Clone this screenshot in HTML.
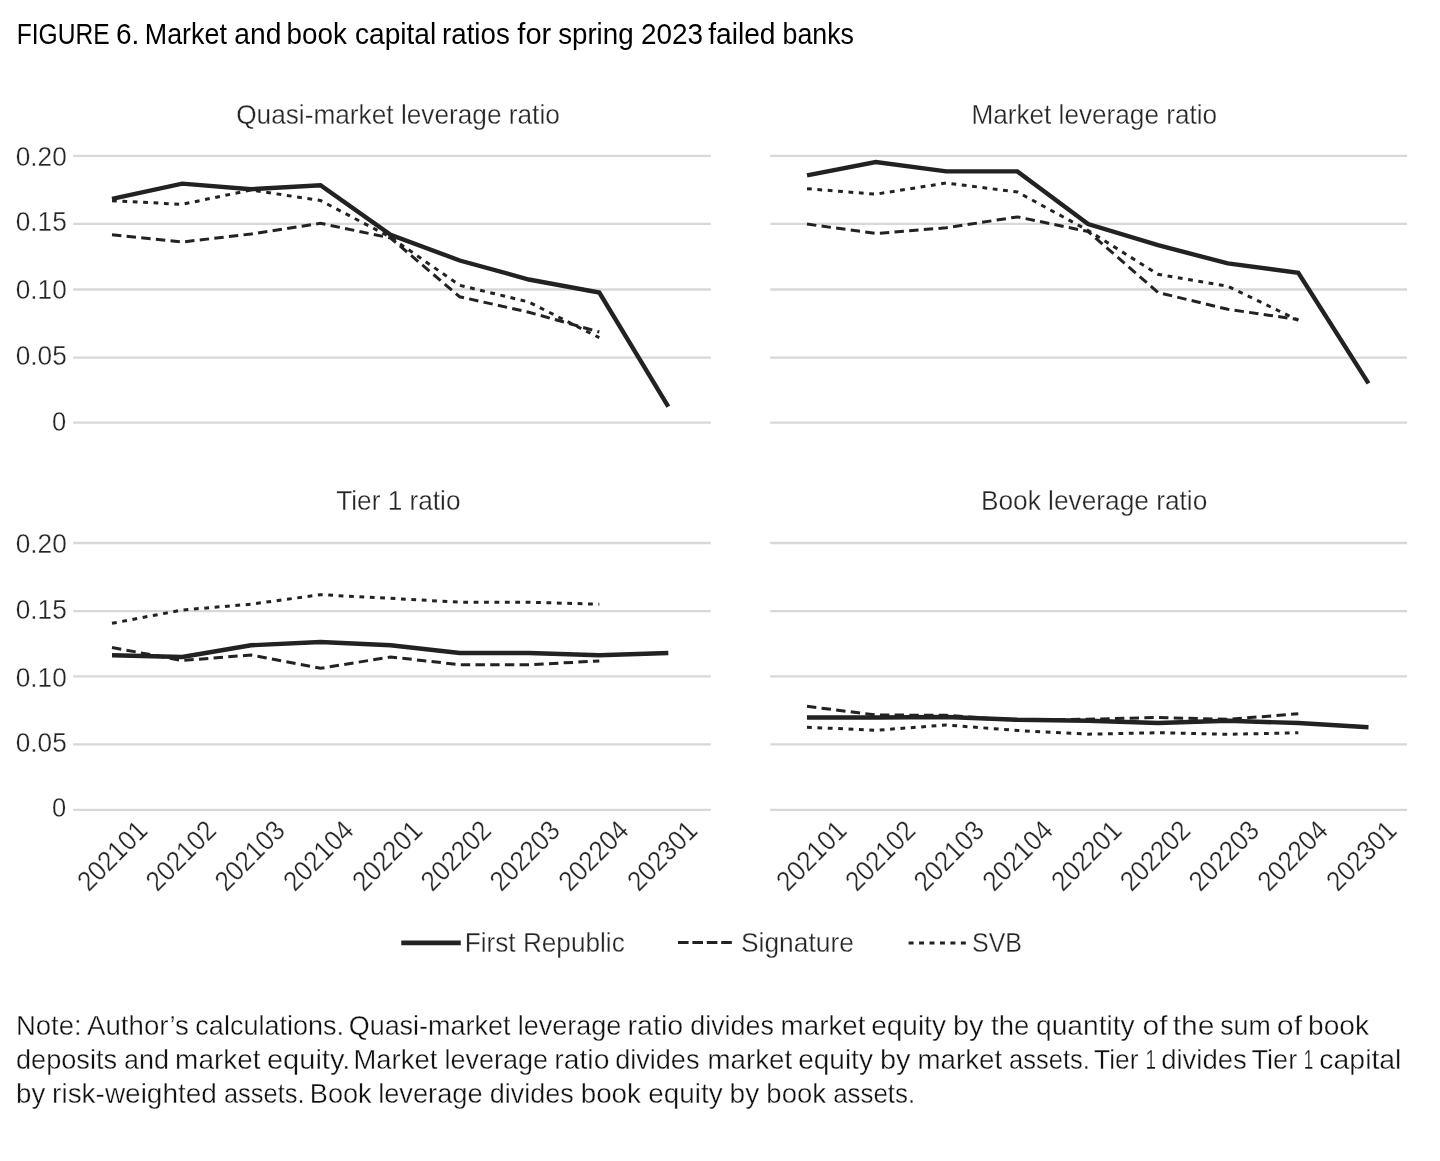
<!DOCTYPE html>
<html lang="en"><head><meta charset="utf-8"><title>FIGURE 6. Market and book capital ratios for spring 2023 failed banks</title>
<style>
html,body{margin:0;padding:0;background:#fff;}
body{width:1440px;height:1161px;overflow:hidden;}
svg{display:block;}
text{font-family:"Liberation Sans", sans-serif;}
.t{font-size:27.8px;fill:#262626;stroke:#fff;stroke-width:0.3px;}
.ttl{font-size:29.6px;fill:#000;}
.note{font-size:27.8px;fill:#111;stroke:#fff;stroke-width:0.35px;}
.g{stroke:#d8d8d8;stroke-width:2.3;}
.s{fill:none;stroke:#222;stroke-width:4.4;stroke-linejoin:miter;stroke-linecap:butt;}
.da{fill:none;stroke:#222;stroke-width:3;stroke-dasharray:9.4 5.3;stroke-linejoin:miter;}
.do{fill:none;stroke:#222;stroke-width:3;stroke-dasharray:4.8 5.6;stroke-linejoin:miter;}
</style></head><body>
<svg width="1440" height="1161" viewBox="0 0 1440 1161">
<rect width="1440" height="1161" fill="#fff"/>
<line class="g" x1="73.2" x2="710.8" y1="155.8" y2="155.8"/>
<line class="g" x1="770.3" x2="1407" y1="155.8" y2="155.8"/>
<line class="g" x1="73.2" x2="710.8" y1="223.9" y2="223.9"/>
<line class="g" x1="770.3" x2="1407" y1="223.9" y2="223.9"/>
<line class="g" x1="73.2" x2="710.8" y1="289.5" y2="289.5"/>
<line class="g" x1="770.3" x2="1407" y1="289.5" y2="289.5"/>
<line class="g" x1="73.2" x2="710.8" y1="357.6" y2="357.6"/>
<line class="g" x1="770.3" x2="1407" y1="357.6" y2="357.6"/>
<line class="g" x1="73.2" x2="710.8" y1="422.7" y2="422.7"/>
<line class="g" x1="770.3" x2="1407" y1="422.7" y2="422.7"/>
<line class="g" x1="73.2" x2="710.8" y1="543.0" y2="543.0"/>
<line class="g" x1="770.3" x2="1407" y1="543.0" y2="543.0"/>
<line class="g" x1="73.2" x2="710.8" y1="611.2" y2="611.2"/>
<line class="g" x1="770.3" x2="1407" y1="611.2" y2="611.2"/>
<line class="g" x1="73.2" x2="710.8" y1="676.4" y2="676.4"/>
<line class="g" x1="770.3" x2="1407" y1="676.4" y2="676.4"/>
<line class="g" x1="73.2" x2="710.8" y1="744.3" y2="744.3"/>
<line class="g" x1="770.3" x2="1407" y1="744.3" y2="744.3"/>
<line class="g" x1="73.2" x2="710.8" y1="809.8" y2="809.8"/>
<line class="g" x1="770.3" x2="1407" y1="809.8" y2="809.8"/>
<text class="ttl" y="44.4"><tspan x="16.75" textLength="92.96" lengthAdjust="spacingAndGlyphs">FIGURE</tspan> <tspan x="115.94" textLength="23.35" lengthAdjust="spacingAndGlyphs">6.</tspan> <tspan x="144.84" textLength="82.04" lengthAdjust="spacingAndGlyphs">Market</tspan> <tspan x="234.36" textLength="47.08" lengthAdjust="spacingAndGlyphs">and</tspan> <tspan x="286.58" textLength="60.36" lengthAdjust="spacingAndGlyphs">book</tspan> <tspan x="354.97" textLength="81.26" lengthAdjust="spacingAndGlyphs">capital</tspan> <tspan x="442.06" textLength="67.73" lengthAdjust="spacingAndGlyphs">ratios</tspan> <tspan x="517.32" textLength="33.98" lengthAdjust="spacingAndGlyphs">for</tspan> <tspan x="558.14" textLength="75.47" lengthAdjust="spacingAndGlyphs">spring</tspan> <tspan x="640.88" textLength="62.03" lengthAdjust="spacingAndGlyphs">2023</tspan> <tspan x="708.17" textLength="67.38" lengthAdjust="spacingAndGlyphs">failed</tspan> <tspan x="782.58" textLength="71.39" lengthAdjust="spacingAndGlyphs">banks</tspan></text>
<text class="t" y="166.4"><tspan x="15.75" textLength="51.05" lengthAdjust="spacingAndGlyphs">0.20</tspan></text>
<text class="t" y="231.3"><tspan x="15.75" textLength="51.02" lengthAdjust="spacingAndGlyphs">0.15</tspan></text>
<text class="t" y="299.2"><tspan x="15.75" textLength="51.05" lengthAdjust="spacingAndGlyphs">0.10</tspan></text>
<text class="t" y="364.9"><tspan x="15.75" textLength="51.02" lengthAdjust="spacingAndGlyphs">0.05</tspan></text>
<text class="t" y="430.6"><tspan x="51.88" textLength="14.20" lengthAdjust="spacingAndGlyphs">0</tspan></text>
<text class="t" y="553.4"><tspan x="15.75" textLength="51.05" lengthAdjust="spacingAndGlyphs">0.20</tspan></text>
<text class="t" y="618.5"><tspan x="15.75" textLength="51.02" lengthAdjust="spacingAndGlyphs">0.15</tspan></text>
<text class="t" y="686.6"><tspan x="15.75" textLength="51.05" lengthAdjust="spacingAndGlyphs">0.10</tspan></text>
<text class="t" y="751.6"><tspan x="15.75" textLength="51.02" lengthAdjust="spacingAndGlyphs">0.05</tspan></text>
<text class="t" y="817.3"><tspan x="51.88" textLength="14.20" lengthAdjust="spacingAndGlyphs">0</tspan></text>
<text class="t" y="123.6"><tspan x="236.18" textLength="323.65" lengthAdjust="spacingAndGlyphs">Quasi-market leverage ratio</tspan></text>
<text class="t" y="123.6"><tspan x="971.43" textLength="245.69" lengthAdjust="spacingAndGlyphs">Market leverage ratio</tspan></text>
<text class="t" y="510.1"><tspan x="336.24" textLength="124.22" lengthAdjust="spacingAndGlyphs">Tier 1 ratio</tspan></text>
<text class="t" y="510.1"><tspan x="980.88" textLength="226.46" lengthAdjust="spacingAndGlyphs">Book leverage ratio</tspan></text>
<text class="t" y="951.6"><tspan x="464.77" textLength="159.97" lengthAdjust="spacingAndGlyphs">First Republic</tspan></text>
<text class="t" y="951.6"><tspan x="740.97" textLength="112.89" lengthAdjust="spacingAndGlyphs">Signature</tspan></text>
<text class="t" y="951.6"><tspan x="972.03" textLength="49.94" lengthAdjust="spacingAndGlyphs">SVB</tspan></text>
<text class="note" y="1035.1"><tspan x="15.89" textLength="65.70" lengthAdjust="spacingAndGlyphs">Note:</tspan> <tspan x="87.09" textLength="101.87" lengthAdjust="spacingAndGlyphs">Author’s</tspan> <tspan x="195.36" textLength="148.73" lengthAdjust="spacingAndGlyphs">calculations.</tspan> <tspan x="348.67" textLength="161.83" lengthAdjust="spacingAndGlyphs">Quasi-market</tspan> <tspan x="517.64" textLength="103.71" lengthAdjust="spacingAndGlyphs">leverage</tspan> <tspan x="627.59" textLength="55.72" lengthAdjust="spacingAndGlyphs">ratio</tspan> <tspan x="690.31" textLength="83.57" lengthAdjust="spacingAndGlyphs">divides</tspan> <tspan x="780.61" textLength="84.82" lengthAdjust="spacingAndGlyphs">market</tspan> <tspan x="871.15" textLength="74.79" lengthAdjust="spacingAndGlyphs">equity</tspan> <tspan x="952.99" textLength="30.57" lengthAdjust="spacingAndGlyphs">by</tspan> <tspan x="991.00" textLength="38.22" lengthAdjust="spacingAndGlyphs">the</tspan> <tspan x="1036.03" textLength="98.69" lengthAdjust="spacingAndGlyphs">quantity</tspan> <tspan x="1142.57" textLength="24.97" lengthAdjust="spacingAndGlyphs">of</tspan> <tspan x="1172.75" textLength="41.72" lengthAdjust="spacingAndGlyphs">the</tspan> <tspan x="1220.24" textLength="50.54" lengthAdjust="spacingAndGlyphs">sum</tspan> <tspan x="1276.86" textLength="25.16" lengthAdjust="spacingAndGlyphs">of</tspan> <tspan x="1308.10" textLength="60.87" lengthAdjust="spacingAndGlyphs">book</tspan></text>
<text class="note" y="1069.0"><tspan x="16.00" textLength="101.07" lengthAdjust="spacingAndGlyphs">deposits</tspan> <tspan x="124.01" textLength="44.94" lengthAdjust="spacingAndGlyphs">and</tspan> <tspan x="175.11" textLength="85.36" lengthAdjust="spacingAndGlyphs">market</tspan> <tspan x="266.94" textLength="83.45" lengthAdjust="spacingAndGlyphs">equity.</tspan> <tspan x="353.47" textLength="83.80" lengthAdjust="spacingAndGlyphs">Market</tspan> <tspan x="444.43" textLength="103.73" lengthAdjust="spacingAndGlyphs">leverage</tspan> <tspan x="554.32" textLength="55.09" lengthAdjust="spacingAndGlyphs">ratio</tspan> <tspan x="615.16" textLength="84.30" lengthAdjust="spacingAndGlyphs">divides</tspan> <tspan x="707.54" textLength="84.66" lengthAdjust="spacingAndGlyphs">market</tspan> <tspan x="798.15" textLength="74.79" lengthAdjust="spacingAndGlyphs">equity</tspan> <tspan x="879.99" textLength="30.57" lengthAdjust="spacingAndGlyphs">by</tspan> <tspan x="917.54" textLength="84.66" lengthAdjust="spacingAndGlyphs">market</tspan> <tspan x="1009.05" textLength="80.76" lengthAdjust="spacingAndGlyphs">assets.</tspan> <tspan x="1094.06" textLength="44.44" lengthAdjust="spacingAndGlyphs">Tier</tspan> <tspan x="1145.54" textLength="10.55" lengthAdjust="spacingAndGlyphs">1</tspan> <tspan x="1161.14" textLength="85.71" lengthAdjust="spacingAndGlyphs">divides</tspan> <tspan x="1251.48" textLength="45.73" lengthAdjust="spacingAndGlyphs">Tier</tspan> <tspan x="1303.74" textLength="9.52" lengthAdjust="spacingAndGlyphs">1</tspan> <tspan x="1319.38" textLength="82.04" lengthAdjust="spacingAndGlyphs">capital</tspan></text>
<text class="note" y="1102.7"><tspan x="16.02" textLength="29.21" lengthAdjust="spacingAndGlyphs">by</tspan> <tspan x="52.14" textLength="164.70" lengthAdjust="spacingAndGlyphs">risk-weighted</tspan> <tspan x="223.99" textLength="80.52" lengthAdjust="spacingAndGlyphs">assets.</tspan> <tspan x="309.82" textLength="61.87" lengthAdjust="spacingAndGlyphs">Book</tspan> <tspan x="378.13" textLength="104.45" lengthAdjust="spacingAndGlyphs">leverage</tspan> <tspan x="489.73" textLength="83.90" lengthAdjust="spacingAndGlyphs">divides</tspan> <tspan x="580.76" textLength="60.16" lengthAdjust="spacingAndGlyphs">book</tspan> <tspan x="648.32" textLength="74.30" lengthAdjust="spacingAndGlyphs">equity</tspan> <tspan x="729.60" textLength="29.68" lengthAdjust="spacingAndGlyphs">by</tspan> <tspan x="766.37" textLength="59.61" lengthAdjust="spacingAndGlyphs">book</tspan> <tspan x="833.14" textLength="82.04" lengthAdjust="spacingAndGlyphs">assets.</tspan></text>
<polyline class="da" points="112.0,234.8 182.2,242.0 251.0,234.0 320.5,223.3 390.6,238.0 459.7,296.8 528.8,312.2 599.3,332.0"/>
<polyline class="do" points="112.0,200.8 182.2,204.3 251.0,190.0 320.5,200.5 390.6,237.3 459.7,285.3 528.8,302.0 599.3,337.7"/>
<polyline class="s" points="112.0,198.8 182.2,183.6 251.0,189.2 320.5,185.3 390.6,234.7 459.7,260.5 528.8,279.5 599.3,292.5 668.3,406.7"/>
<polyline class="da" points="807.0,224.1 875.8,233.5 946.3,227.8 1017.4,216.9 1088.1,231.5 1158.0,292.5 1227.8,309.3 1298.3,319.5"/>
<polyline class="do" points="807.0,188.7 875.8,194.2 946.3,183.0 1017.4,192.0 1088.1,230.5 1158.0,274.3 1227.8,286.2 1298.3,320.3"/>
<polyline class="s" points="807.0,175.3 875.8,162.0 946.3,171.4 1017.4,171.4 1088.1,224.1 1158.0,245.2 1227.8,263.4 1298.3,272.8 1368.5,383.4"/>
<polyline class="da" points="112.0,647.5 182.2,660.5 251.0,655.0 320.5,668.3 390.6,657.0 459.7,664.7 528.8,664.7 599.3,661.0"/>
<polyline class="do" points="112.0,623.3 182.2,610.0 251.0,604.2 320.5,594.7 390.6,598.3 459.7,602.2 528.8,602.2 599.3,604.2"/>
<polyline class="s" points="112.0,655.3 182.2,657.0 251.0,645.3 320.5,642.0 390.6,645.3 459.7,653.0 528.8,653.0 599.3,655.3 668.3,653.0"/>
<polyline class="da" points="807.0,706.3 875.8,715.0 946.3,715.3 1017.4,720.5 1088.1,719.2 1158.0,717.5 1227.8,719.3 1298.3,713.8"/>
<polyline class="do" points="807.0,727.2 875.8,730.3 946.3,725.0 1017.4,730.5 1088.1,734.2 1158.0,732.7 1227.8,734.3 1298.3,732.8"/>
<polyline class="s" points="807.0,717.5 875.8,717.5 946.3,717.0 1017.4,719.7 1088.1,720.8 1158.0,723.0 1227.8,720.8 1298.3,723.0 1368.5,727.2"/>
<text class="t" transform="translate(149.1,832.1) rotate(-45)" text-anchor="end" textLength="85.5" lengthAdjust="spacingAndGlyphs">202101</text>
<text class="t" transform="translate(217.8,832.1) rotate(-45)" text-anchor="end" textLength="85.5" lengthAdjust="spacingAndGlyphs">202102</text>
<text class="t" transform="translate(286.6,832.1) rotate(-45)" text-anchor="end" textLength="85.5" lengthAdjust="spacingAndGlyphs">202103</text>
<text class="t" transform="translate(355.3,832.1) rotate(-45)" text-anchor="end" textLength="85.5" lengthAdjust="spacingAndGlyphs">202104</text>
<text class="t" transform="translate(424.1,832.1) rotate(-45)" text-anchor="end" textLength="85.5" lengthAdjust="spacingAndGlyphs">202201</text>
<text class="t" transform="translate(492.8,832.1) rotate(-45)" text-anchor="end" textLength="85.5" lengthAdjust="spacingAndGlyphs">202202</text>
<text class="t" transform="translate(561.6,832.1) rotate(-45)" text-anchor="end" textLength="85.5" lengthAdjust="spacingAndGlyphs">202203</text>
<text class="t" transform="translate(630.4,832.1) rotate(-45)" text-anchor="end" textLength="85.5" lengthAdjust="spacingAndGlyphs">202204</text>
<text class="t" transform="translate(699.1,832.1) rotate(-45)" text-anchor="end" textLength="85.5" lengthAdjust="spacingAndGlyphs">202301</text>
<text class="t" transform="translate(848.3,832.1) rotate(-45)" text-anchor="end" textLength="85.5" lengthAdjust="spacingAndGlyphs">202101</text>
<text class="t" transform="translate(917.1,832.1) rotate(-45)" text-anchor="end" textLength="85.5" lengthAdjust="spacingAndGlyphs">202102</text>
<text class="t" transform="translate(985.8,832.1) rotate(-45)" text-anchor="end" textLength="85.5" lengthAdjust="spacingAndGlyphs">202103</text>
<text class="t" transform="translate(1054.5,832.1) rotate(-45)" text-anchor="end" textLength="85.5" lengthAdjust="spacingAndGlyphs">202104</text>
<text class="t" transform="translate(1123.3,832.1) rotate(-45)" text-anchor="end" textLength="85.5" lengthAdjust="spacingAndGlyphs">202201</text>
<text class="t" transform="translate(1192.0,832.1) rotate(-45)" text-anchor="end" textLength="85.5" lengthAdjust="spacingAndGlyphs">202202</text>
<text class="t" transform="translate(1260.8,832.1) rotate(-45)" text-anchor="end" textLength="85.5" lengthAdjust="spacingAndGlyphs">202203</text>
<text class="t" transform="translate(1329.5,832.1) rotate(-45)" text-anchor="end" textLength="85.5" lengthAdjust="spacingAndGlyphs">202204</text>
<text class="t" transform="translate(1398.3,832.1) rotate(-45)" text-anchor="end" textLength="85.5" lengthAdjust="spacingAndGlyphs">202301</text>
<line x1="401.3" x2="460.8" y1="942.9" y2="942.9" stroke="#222" stroke-width="4.6"/>
<line x1="678" x2="731.8" y1="942.5" y2="942.5" stroke="#222" stroke-width="3" stroke-dasharray="10.6 3.8"/>
<line x1="908.6" x2="966" y1="942.9" y2="942.9" stroke="#222" stroke-width="3" stroke-dasharray="5 5.45"/>
</svg>
</body></html>
